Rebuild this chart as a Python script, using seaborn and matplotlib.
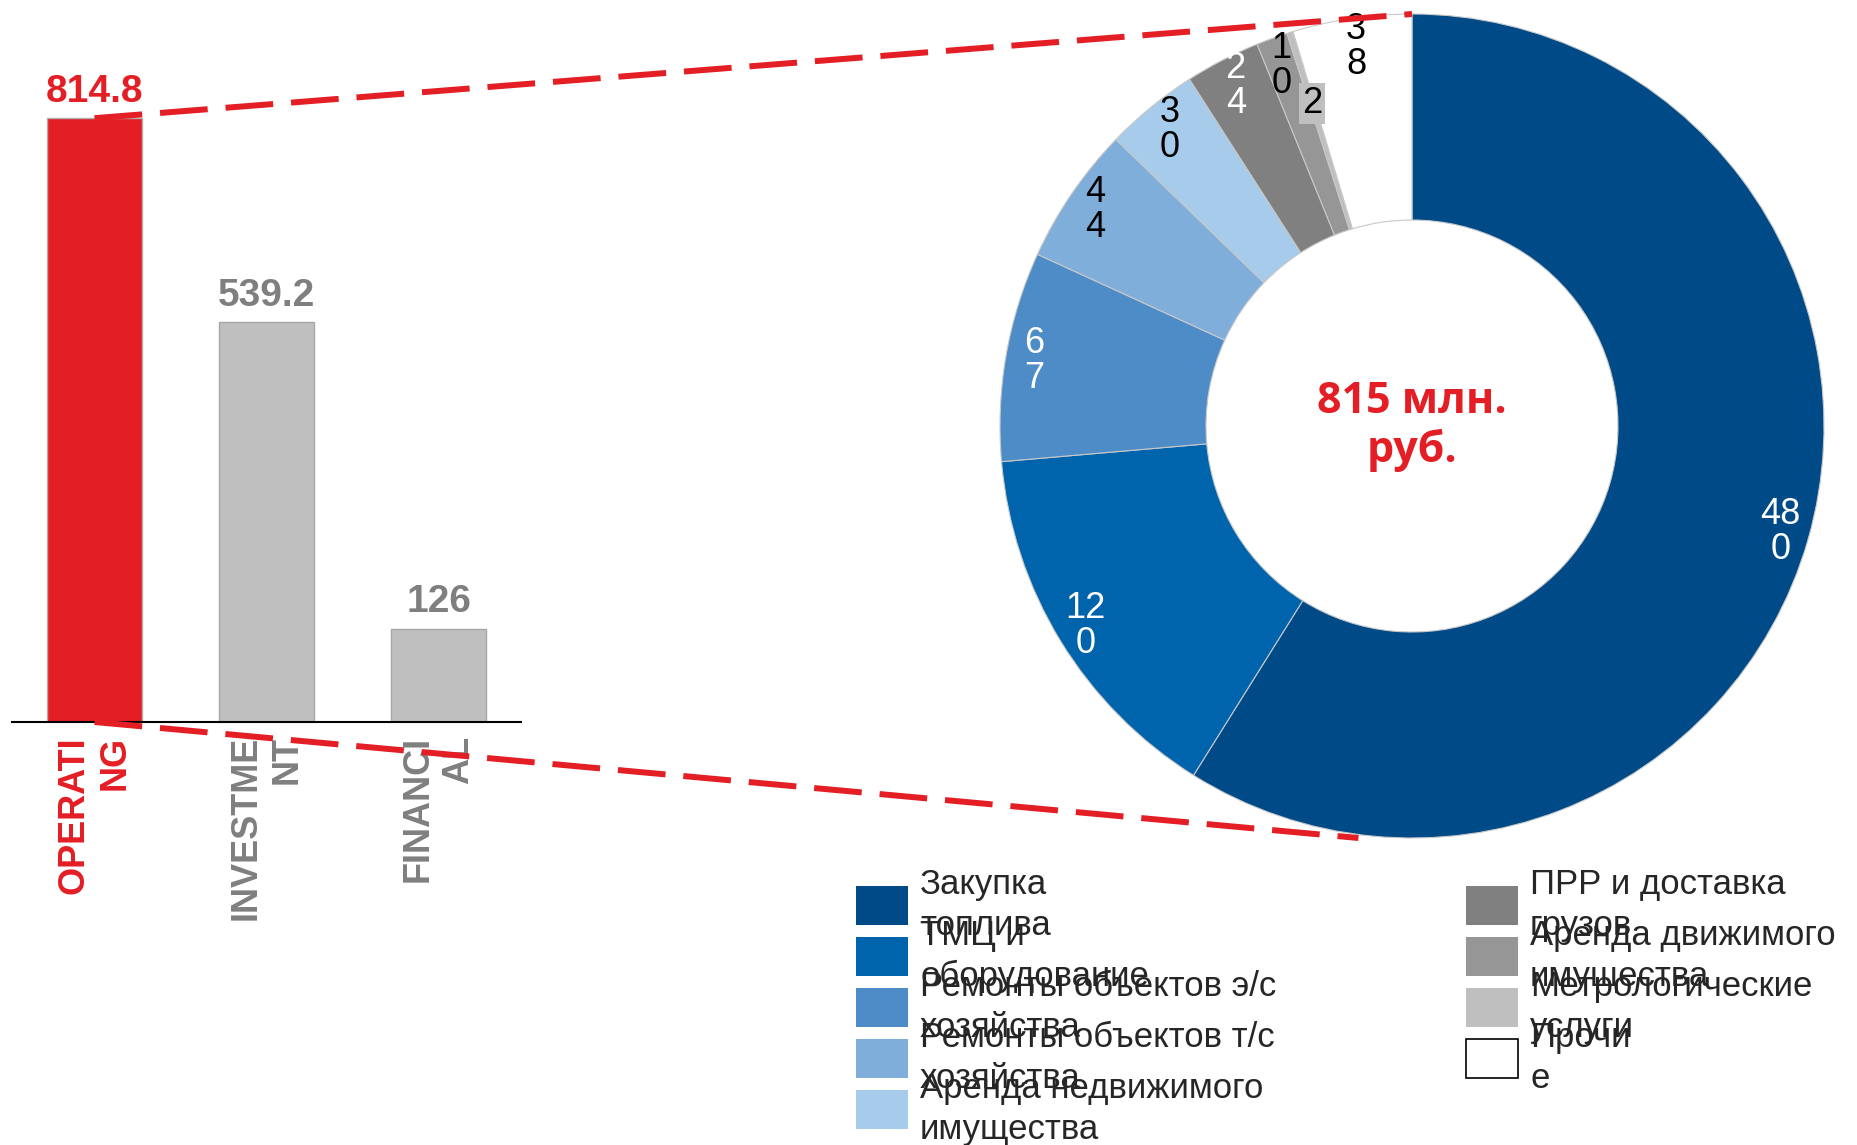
import numpy as np
import pandas as pd
import seaborn as sns
import matplotlib.pyplot as plt
from matplotlib.patches import ConnectionPatch, Rectangle

# Cash flow bars
flow_types = ['OPERATING', 'INVESTMENT', 'FINANCIAL']
flow_ticks = ['OPERATI\nNG', 'INVESTME\nNT', 'FINANCI\nAL']
flow_values = [814.8, 539.2, 126]

# Operating costs breakdown (donut)
cost_items = ['Закупка\nтоплива', 'ТМЦ и\nоборудование', 'Ремонты объектов э/с\nхозяйства',
              'Ремонты объектов т/с\nхозяйства', 'Аренда недвижимого\nимущества',
              'ПРР и доставка\nгрузов', 'Аренда движимого\nимущества',
              'Метрологические\nуслуги', 'Прочи\nе']
cost_values = [480, 120, 67, 44, 30, 24, 10, 2, 38]

RED = '#E31E24'
GREY_TXT = '#7F7F7F'
bar_colors = [RED, '#BFBFBF', '#BFBFBF']
bar_edges = ['#B0B0B0', '#A6A6A6', '#A6A6A6']
text_colors = [RED, GREY_TXT, GREY_TXT]
pie_colors = ['#004A87', '#0064AD', '#4E8CC7', '#80AEDB', '#A7CBEA',
              '#808080', '#969696', '#BFBFBF', '#FFFFFF']
pie_text_colors = ['white', 'white', 'white', 'black', 'black', 'white', 'black', 'black', 'black']

sns.set_style('white')
plt.rcParams['font.family'] = ['Liberation Sans', 'DejaVu Sans']

W, H = 1857, 1145
fig = plt.figure(figsize=(W / 100, H / 100), dpi=100)

# ---- bar chart
ax_bar = fig.add_axes([12 / W, (H - 722) / H, 509 / W, 667 / H])
df = pd.DataFrame({'type': flow_types, 'value': flow_values})
sns.barplot(data=df, x='type', y='value', hue='type', palette=bar_colors,
            width=0.55, saturation=1, legend=False, ax=ax_bar)
for p, ec in zip(ax_bar.patches, bar_edges):
    p.set_edgecolor(ec)
    p.set_linewidth(1)
ax_bar.set_xlim(-0.48, 2.48)
ax_bar.set_ylim(0, 900)
sns.despine(ax=ax_bar, left=True)
ax_bar.spines['bottom'].set_color('black')
ax_bar.spines['bottom'].set_linewidth(1.5)
ax_bar.set_yticks([])
ax_bar.set_xlabel('')
ax_bar.set_ylabel('')
ax_bar.set_xticks(range(len(flow_ticks)))
ax_bar.set_xticklabels(flow_ticks, rotation=90, fontsize=26, fontweight='bold',
                       ha='center', va='top', multialignment='right')
ax_bar.tick_params(axis='x', length=0, pad=10)
for lbl, c in zip(ax_bar.get_xticklabels(), text_colors):
    lbl.set_color(c)
for cont, c in zip(ax_bar.containers, text_colors):
    ax_bar.bar_label(cont, fmt='%g', padding=6, fontsize=28, fontweight='bold', color=c)

# ---- donut
ax_pie = fig.add_axes([1000 / W, 307 / H, 824 / W, 824 / H])
pie_labels = [str(v)[:-1] + '\n' + str(v)[-1] if v >= 10 else str(v) for v in cost_values]
wedges, texts = ax_pie.pie(cost_values, labels=pie_labels, colors=pie_colors,
                           startangle=90, counterclock=False, labeldistance=0.93,
                           wedgeprops=dict(width=0.5, edgecolor='#c8c8c8', linewidth=0.8),
                           textprops=dict(fontsize=26))
ax_pie.set_xlim(-1, 1)
ax_pie.set_ylim(-1, 1)
for w in wedges:
    w.set_clip_on(False)
for t, c in zip(texts, pie_text_colors):
    t.set_ha('center')
    t.set_color(c)
    t.set_linespacing(1.0)
# small slice label sits further in, with a box
x, y = texts[7].get_position()
texts[7].set_position((x * 0.82 / 0.93, y * 0.82 / 0.93))
texts[7].set_bbox(dict(facecolor='#BFBFBF', edgecolor='none', pad=2))

ax_pie.text(0, 0, f'{sum(cost_values)} млн.\nруб.', ha='center', va='center', color=RED,
            fontsize=31, fontweight='bold', family=['Open Sans', 'DejaVu Sans'])

# ---- dashed zoom lines
for xy_a, xy_b in [((0, flow_values[0]), (0, 1.0)), ((0, 0), (-0.13, -1.0))]:
    con = ConnectionPatch(xyA=xy_a, coordsA=ax_bar.transData, xyB=xy_b, coordsB=ax_pie.transData,
                          color=RED, lw=4.3, linestyle=(0, (8, 3)), capstyle='butt', zorder=10)
    fig.add_artist(con)

# ---- legend
for i, (lab, col) in enumerate(zip(cost_items, pie_colors)):
    row = i if i < 5 else i - 5
    x0 = 856 if i < 5 else 1466
    yc = 905 + row * 51
    fig.add_artist(Rectangle((x0 / W, 1 - (yc + 19.5) / H), 52 / W, 39 / H,
                             transform=fig.transFigure, facecolor=col,
                             edgecolor='black' if col == '#FFFFFF' else 'none', linewidth=1.2))
    fig.text((x0 + 64) / W, 1 - yc / H, lab, ha='left', va='center', fontsize=25, linespacing=1.3)

fig.savefig('out.png', dpi=100)
